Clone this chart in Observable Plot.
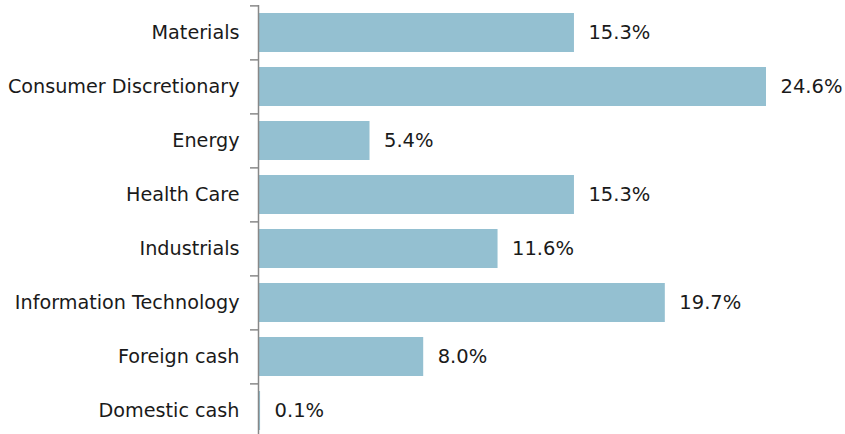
<!DOCTYPE html>
<html>
<head>
<meta charset="utf-8">
<script src="https://cdn.jsdelivr.net/npm/d3@7"></script>
<script src="https://cdn.jsdelivr.net/npm/@observablehq/plot@0.6"></script>
<style>
  html, body { margin: 0; padding: 0; background: #fff; }
  #chart svg { display: block; }
</style>
</head>
<body>
<div id="chart"></div>
<script>
const categories = ["Materials", "Consumer Discretionary", "Energy", "Health Care", "Industrials", "Information Technology", "Foreign cash", "Domestic cash"];
const values = [15.3, 24.6, 5.4, 15.3, 11.6, 19.7, 8.0, 0.1];

const data = categories.map((c, i) => ({category: c, value: values[i]}));

const chart = Plot.plot({
  width: 845,
  height: 434,
  marginLeft: 258,
  marginRight: 79,
  marginTop: 5,
  marginBottom: 0,
  style: {fontFamily: "'DejaVu Sans', Verdana, sans-serif", fontSize: "19px", color: "#1a1a1a", background: "#fff"},
  x: {domain: [0, 24.6], range: [258, 766], axis: null},
  y: {domain: categories, range: [5, 439], paddingInner: 0.27, paddingOuter: 0.135, axis: null, label: null},
  marks: [
    Plot.barX(data, {x: "value", y: "category", fill: "#94c0d1"}),
    Plot.text(data, {x: "value", y: "category", text: d => d.value.toFixed(1) + "%", textAnchor: "start", dx: 14, fontSize: 19.5, fill: "#1a1a1a"}),
    Plot.axisY({tickSize: 0, tickPadding: 19, fontSize: 19.2, fill: "#1a1a1a", label: null}),
    Plot.axisY({text: null, tickSize: 8, dy: -27.125, stroke: "#888", strokeWidth: 1.5, label: null}),
    Plot.ruleX([0], {stroke: "#888", strokeWidth: 1.5})
  ]
});
document.getElementById("chart").appendChild(chart);
</script>
</body>
</html>
